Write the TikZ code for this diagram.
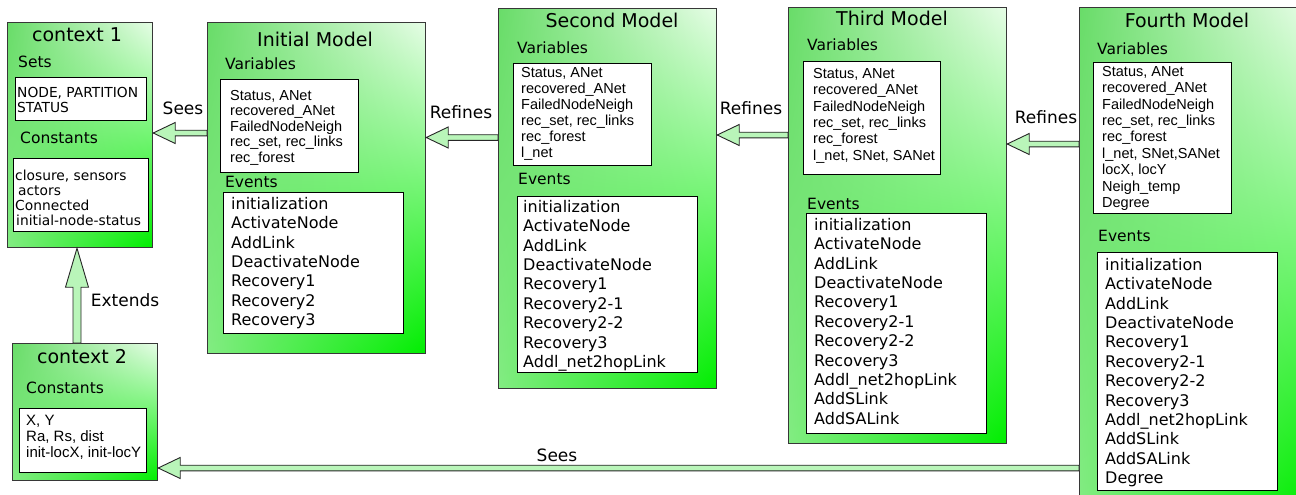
\documentclass[tikz,border=0pt]{standalone}
\usepackage{fontspec}
\setmainfont{DejaVu Sans}
\newfontfamily\varfont{Liberation Sans}
\usetikzlibrary{calc,shadings}

\definecolor{gtl}{RGB}{105,220,105}
\definecolor{gtr}{RGB}{230,253,230}
\definecolor{gbl}{RGB}{130,236,130}
\definecolor{gbr}{RGB}{0,238,0}
\definecolor{arrowfill}{RGB}{185,245,185}
\definecolor{framegray}{RGB}{55,55,55}

\tikzset{
  modelbox/.style={draw=framegray, line width=1.2pt, rectangle, anchor=north west,
    inner sep=0pt, upper left=gtl, upper right=gtr, lower left=gbl, lower right=gbr},
  listbox/.style={draw=black, line width=1.1pt, fill=white, rectangle,
    anchor=north west, inner sep=0pt},
  boxtitle/.style={font=\fontsize{19}{22}\selectfont, inner sep=0pt},
  section/.style={font=\fontsize{15.5}{18}\selectfont, anchor=west, inner sep=0pt},
  evlist/.style={font=\fontsize{16}{19.4}\selectfont, align=left, anchor=north west, inner sep=0pt},
  varlist/.style={font=\varfont\fontsize{14.5}{16}\selectfont, align=left, anchor=north west, inner sep=0pt},
  ctxlist/.style={font=\fontsize{13.8}{14.8}\selectfont, align=left, anchor=north west, inner sep=0pt},
  ctxvar/.style={font=\varfont\fontsize{15}{16}\selectfont, align=left, anchor=north west, inner sep=0pt},
  rellabel/.style={font=\fontsize{17}{20}\selectfont, inner sep=0pt},
  hollow/.style={draw=black!85, line width=0.9pt, fill=arrowfill, line join=miter},
}

% hollow block arrow, horizontal, tip on the left: #1 tail point, #2 tip point
\newcommand\blockarrowleft[2]{%
  \draw[hollow] let \p1=#1, \p2=#2 in
    (\x1,\y1+2.8pt) -- (\x2+22pt,\y1+2.8pt) -- (\x2+22pt,\y1+10.5pt) -- (\x2,\y1)
    -- (\x2+22pt,\y1-10.5pt) -- (\x2+22pt,\y1-2.8pt) -- (\x1,\y1-2.8pt) -- cycle;}
% hollow block arrow, vertical, tip on top: #1 tail point, #2 tip point
\newcommand\blockarrowup[2]{%
  \draw[hollow] let \p1=#1, \p2=#2 in
    (\x1-4pt,\y1) -- (\x1-4pt,\y2-39pt) -- (\x1-11.5pt,\y2-39pt) -- (\x1,\y2)
    -- (\x1+11.5pt,\y2-39pt) -- (\x1+4pt,\y2-39pt) -- (\x1+4pt,\y1) -- cycle;}

\begin{document}
\begin{tikzpicture}[x=1pt,y=-1pt]
\clip (0,0) rectangle (1296,495);
\fill[white] (0,0) rectangle (1296,495);

% ---------- context 1 ----------
\node[modelbox, minimum width=145pt, minimum height=225pt] (ctx1) at (7,22) {};
\node[boxtitle] (ctx1title) at (77,35) {context 1};
\node[section] (ctx1sets) at (18,62) {Sets};
\node[listbox, minimum width=131pt, minimum height=43pt] (ctx1setbox) at (15,77) {};
\node[ctxlist] (ctx1settext) at (17,87) {NODE, PARTITION\\ STATUS};
\node[section] (ctx1const) at (20,138) {Constants};
\node[listbox, minimum width=135pt, minimum height=73pt] (ctx1constbox) at (13,158) {};
\node[ctxlist] (ctx1consttext) at (15,170) {closure, sensors\\\hspace*{3pt}actors\\Connected\\\hspace*{1pt}initial-node-status};

% ---------- context 2 ----------
\node[modelbox, minimum width=145pt, minimum height=137pt] (ctx2) at (12,343) {};
\node[boxtitle] (ctx2title) at (82,357) {context 2};
\node[section] (ctx2const) at (26,388) {Constants};
\node[listbox, minimum width=127pt, minimum height=64pt] (ctx2constbox) at (19,408) {};
\node[ctxvar] (ctx2consttext) at (26,415) {X, Y\\Ra, Rs, dist\\init-locX, init-locY};

% ---------- Initial Model ----------
\node[modelbox, minimum width=218pt, minimum height=331pt] (init) at (207,22) {};
\node[boxtitle] (inittitle) at (315,39) {Initial Model};
\node[section] (initvarlabel) at (225,64) {Variables};
\node[listbox, minimum width=138pt, minimum height=93pt] (initvarbox) at (220,79) {};
\node[varlist, font=\varfont\fontsize{14.5}{15.5}\selectfont] (initvars) at (230,90)
  {Status, ANet\\recovered\_ANet\\FailedNodeNeigh\\rec\_set, rec\_links\\rec\_forest};
\node[section] (initevlabel) at (225,182) {Events};
\node[listbox, minimum width=180pt, minimum height=141pt] (initevbox) at (223,192) {};
\node[evlist] (initevents) at (231,197)
  {initialization\\ActivateNode\\AddLink\\DeactivateNode\\Recovery1\\Recovery2\\Recovery3};

% ---------- Second Model ----------
\node[modelbox, minimum width=218pt, minimum height=380pt] (second) at (498,8) {};
\node[boxtitle] (sectitle) at (612,20) {Second Model};
\node[section] (secvarlabel) at (517,48) {Variables};
\node[listbox, minimum width=138pt, minimum height=102pt] (secvarbox) at (513,63) {};
\node[varlist] (secvars) at (521,67)
  {Status, ANet\\recovered\_ANet\\FailedNodeNeigh\\rec\_set, rec\_links\\rec\_forest\\l\_net};
\node[section] (secevlabel) at (518,179) {Events};
\node[listbox, minimum width=180pt, minimum height=176pt] (secevbox) at (517,196) {};
\node[evlist] (secevents) at (523,200)
  {initialization\\ActivateNode\\AddLink\\DeactivateNode\\Recovery1\\Recovery2-1\\Recovery2-2\\Recovery3\\Addl\_net2hopLink};

% ---------- Third Model ----------
\node[modelbox, minimum width=218pt, minimum height=436pt] (third) at (788,7) {};
\node[boxtitle] (thirdtitle) at (892,18) {Third Model};
\node[section] (thirdvarlabel) at (807,45) {Variables};
\node[listbox, minimum width=137pt, minimum height=113pt] (thirdvarbox) at (803,61) {};
\node[varlist, font=\varfont\fontsize{14.5}{16.4}\selectfont] (thirdvars) at (813,68)
  {Status, ANet\\recovered\_ANet\\FailedNodeNeigh\\rec\_set, rec\_links\\rec\_forest\\l\_net, SNet, SANet};
\node[section] (thirdevlabel) at (807,204) {Events};
\node[listbox, minimum width=180pt, minimum height=220pt] (thirdevbox) at (806,213) {};
\node[evlist] (thirdevents) at (814,218)
  {initialization\\ActivateNode\\AddLink\\DeactivateNode\\Recovery1\\Recovery2-1\\Recovery2-2\\Recovery3\\Addl\_net2hopLink\\AddSLink\\AddSALink};

% ---------- Fourth Model ----------
\node[modelbox, minimum width=230pt, minimum height=500pt] (fourth) at (1079,7) {};
\node[boxtitle] (fourthtitle) at (1187,20) {Fourth Model};
\node[section] (fourthvarlabel) at (1097,49) {Variables};
\node[listbox, minimum width=138pt, minimum height=151pt] (fourthvarbox) at (1093,62) {};
\node[varlist, font=\varfont\fontsize{14.5}{16.4}\selectfont] (fourthvars) at (1102,66)
  {Status, ANet\\recovered\_ANet\\FailedNodeNeigh\\rec\_set, rec\_links\\rec\_forest\\l\_net, SNet,SANet\\locX, locY\\Neigh\_temp\\Degree};
\node[section] (fourthevlabel) at (1098,236) {Events};
\node[listbox, minimum width=180pt, minimum height=238pt] (fourthevbox) at (1097,252) {};
\node[evlist] (fourthevents) at (1105,258)
  {initialization\\ActivateNode\\AddLink\\DeactivateNode\\Recovery1\\Recovery2-1\\Recovery2-2\\Recovery3\\Addl\_net2hopLink\\AddSLink\\AddSALink\\Degree};

% ---------- relations ----------
\blockarrowleft{(init.west |- 0,133)}{(ctx1.east |- 0,133)}
\node[rellabel] (sees1) at (183,108) {Sees};
\blockarrowleft{(second.west |- 0,137.5)}{(init.east |- 0,137.5)}
\node[rellabel] (refines1) at (461,112) {Refines};
\blockarrowleft{(third.west |- 0,135)}{(second.east |- 0,135)}
\node[rellabel] (refines2) at (751,108) {Refines};
\blockarrowleft{(fourth.west |- 0,144)}{(third.east |- 0,144)}
\node[rellabel] (refines3) at (1046,117) {Refines};
\blockarrowup{(ctx2.north -| 77,0)}{(ctx1.south -| 77,0)}
\node[rellabel] (extends) at (125,300) {Extends};
\blockarrowleft{(fourth.west |- 0,468)}{(ctx2.east |- 0,468)}
\node[rellabel] (sees2) at (557,455) {Sees};
\end{tikzpicture}
\end{document}
